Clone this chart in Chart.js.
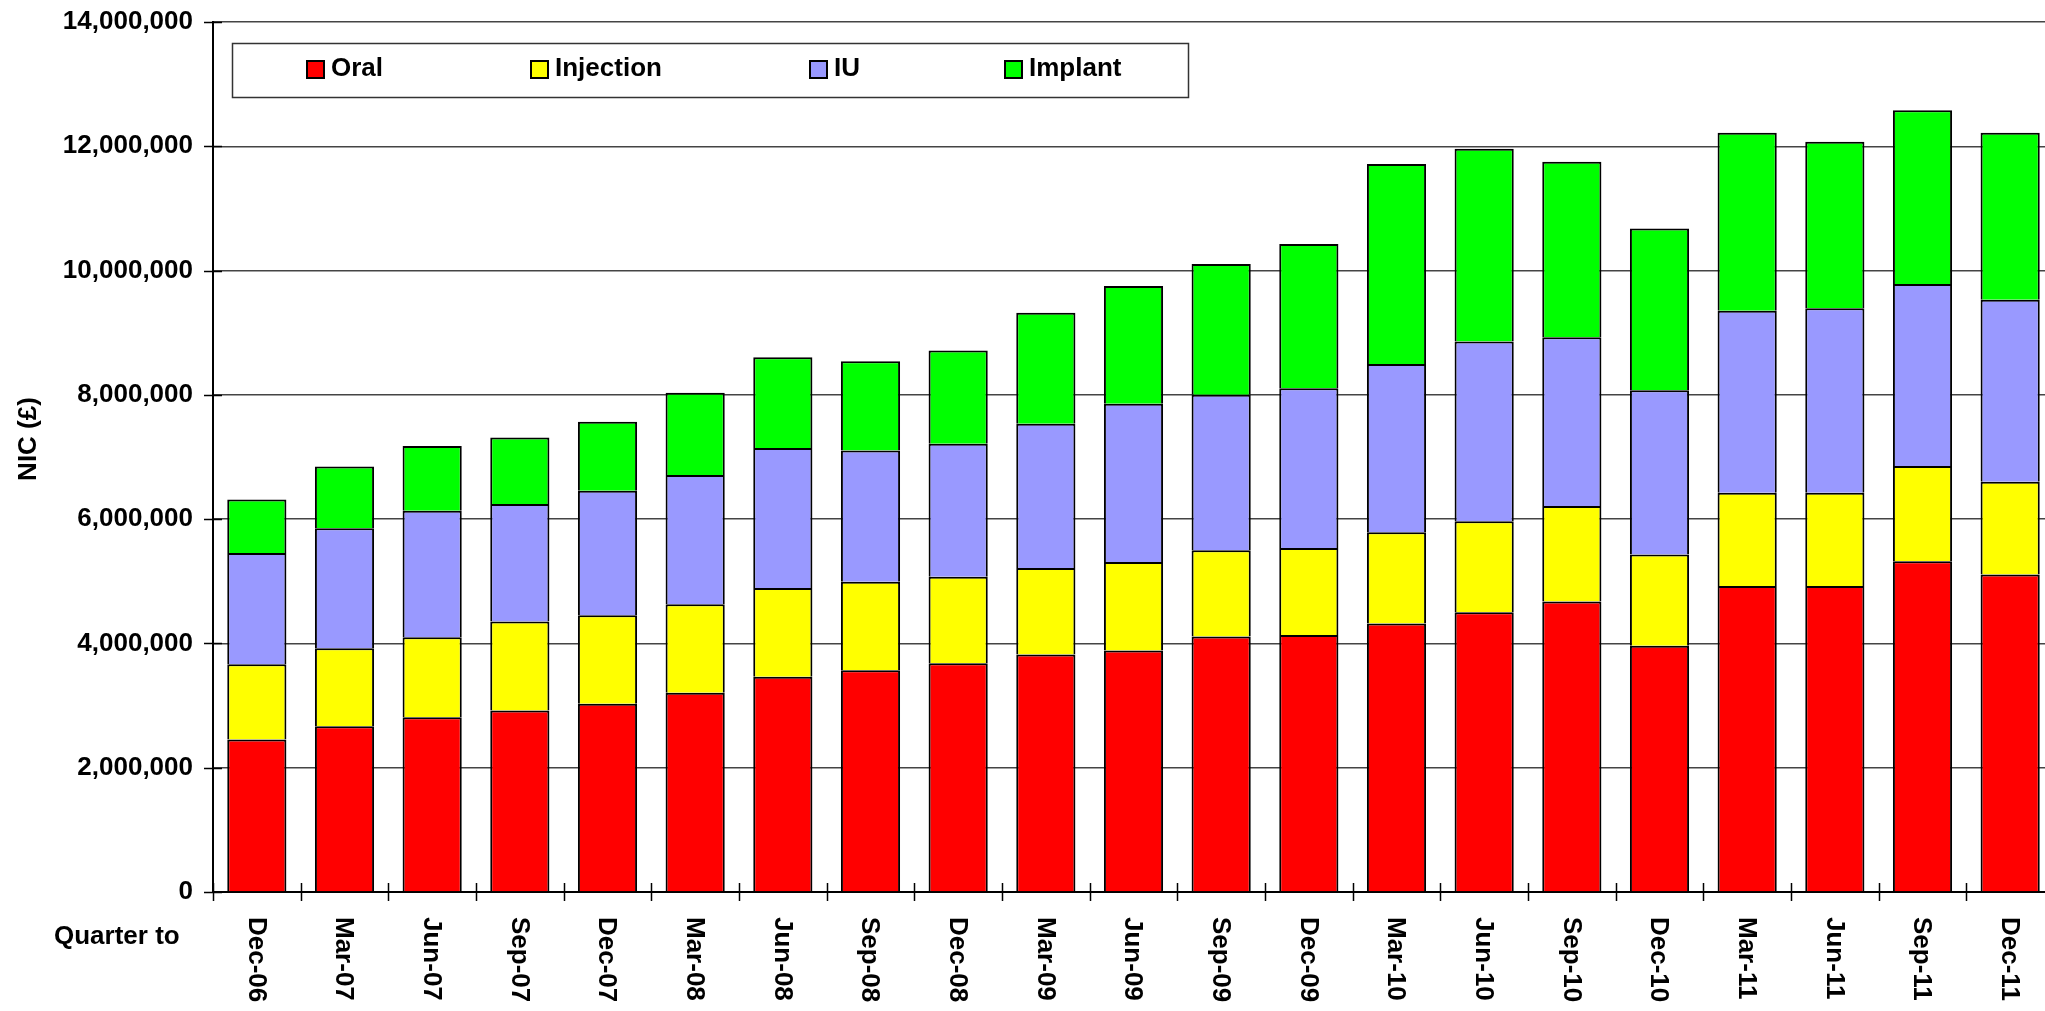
<!DOCTYPE html>
<html>
<head>
<meta charset="utf-8">
<title>Contraceptive NIC by quarter</title>
<script src="https://cdn.jsdelivr.net/npm/chart.js@4/dist/chart.umd.min.js"></script>
<style>
  html, body { margin: 0; padding: 0; background: #fff; overflow: hidden; }
  #wrap { width: 2054px; height: 1011px; position: relative; }
</style>
</head>
<body>
<div id="wrap"><canvas id="nicChart"></canvas></div>
<script>
// quarterly net ingredient cost (GBP) by method
const quarters = ["Dec-06", "Mar-07", "Jun-07", "Sep-07", "Dec-07", "Mar-08", "Jun-08", "Sep-08",
  "Dec-08", "Mar-09", "Jun-09", "Sep-09", "Dec-09", "Mar-10", "Jun-10", "Sep-10", "Dec-10",
  "Mar-11", "Jun-11", "Sep-11", "Dec-11"];

const oral      = [2455000, 2669000, 2813000, 2921000, 3028000, 3205000, 3462000, 3569000, 3680000, 3823000, 3888000,
                   4112000, 4134000, 4321000, 4503000, 4675000, 3963000, 4926000, 4926000, 5323000, 5108000];
const injection = [1211000, 1254000, 1287000, 1431000, 1425000, 1425000, 1428000, 1424000, 1391000, 1392000, 1424000,
                   1387000, 1403000, 1467000, 1462000, 1537000, 1467000, 1500000, 1500000, 1531000, 1494000];
const iu        = [1790000, 1929000, 2036000, 1891000, 2005000, 2080000, 2255000, 2111000, 2142000, 2319000, 2543000,
                   2501000, 2570000, 2710000, 2892000, 2714000, 2645000, 2929000, 2966000, 2929000, 2929000];
const implant   = [862000, 997000, 1040000, 1072000, 1109000, 1323000, 1460000, 1437000, 1499000, 1789000, 1896000,
                   2104000, 2319000, 3215000, 3105000, 2827000, 2604000, 2864000, 2682000, 2795000, 2688000];

const yTicks = [0, 2000000, 4000000, 6000000, 8000000, 10000000, 12000000, 14000000];

const FONT = "'Liberation Sans', Arial, sans-serif";

const series = (label, data, color) => ({
  label: label,
  data: data,
  backgroundColor: color,
  borderColor: "#000",
  borderWidth: 2,
  borderSkipped: "start",
  barPercentage: 0.675,
  categoryPercentage: 1.0
});

// Excel-style extras: cross tick marks, clockwise category labels, titles, boxed legend
const excelExtras = {
  id: "excelExtras",
  afterDraw(chart) {
    const ctx = chart.ctx;
    const xs = chart.scales.x, ys = chart.scales.y;
    const area = chart.chartArea;
    ctx.save();

    ctx.strokeStyle = "#000";
    ctx.lineWidth = 1.5;
    ctx.beginPath();
    yTicks.forEach(v => {
      const py = Math.round(ys.getPixelForValue(v)) + 0.5;
      ctx.moveTo(area.left - 9, py);
      ctx.lineTo(area.left + 9, py);
    });
    const step = (area.right - area.left) / quarters.length;
    for (let i = 0; i <= quarters.length; i++) {
      const px = Math.round(area.left + i * step) + 0.5;
      ctx.moveTo(px, area.bottom - 9);
      ctx.lineTo(px, area.bottom + 9);
    }
    ctx.stroke();

    ctx.fillStyle = "#000";
    ctx.font = "bold 26px " + FONT;
    quarters.forEach((q, i) => {
      ctx.save();
      ctx.translate(xs.getPixelForValue(i) - 1, area.bottom + 25);
      ctx.rotate(Math.PI / 2);
      ctx.textAlign = "left";
      ctx.textBaseline = "middle";
      ctx.fillText(q, 0, 0);
      ctx.restore();
    });

    ctx.textAlign = "left";
    ctx.textBaseline = "middle";
    ctx.fillText("Quarter to", 54, 937);

    ctx.save();
    ctx.translate(29, 439);
    ctx.rotate(-Math.PI / 2);
    ctx.textAlign = "center";
    ctx.fillText("NIC (£)", 0, 0);
    ctx.restore();

    // legend box
    ctx.fillStyle = "#fff";
    ctx.fillRect(232, 43, 957, 55);
    ctx.strokeStyle = "#333";
    ctx.lineWidth = 1.5;
    ctx.strokeRect(232.5, 43.5, 956, 54);
    const entryX = [307, 531, 810, 1005];
    chart.data.datasets.forEach((ds, i) => {
      const x0 = entryX[i];
      ctx.fillStyle = ds.backgroundColor;
      ctx.fillRect(x0, 61, 17, 17);
      ctx.strokeStyle = "#000";
      ctx.lineWidth = 2;
      ctx.strokeRect(x0, 61, 17, 17);
      ctx.fillStyle = "#000";
      ctx.fillText(ds.label, x0 + 24, 69);
    });

    ctx.restore();
  }
};

new Chart(document.getElementById("nicChart"), {
  type: "bar",
  data: {
    labels: quarters,
    datasets: [
      series("Oral", oral, "#ff0000"),
      series("Injection", injection, "#ffff00"),
      series("IU", iu, "#9999ff"),
      series("Implant", implant, "#00ff00")
    ]
  },
  options: {
    responsive: true,
    maintainAspectRatio: false,
    animation: false,
    layout: { padding: { top: 22, right: 0, bottom: 0, left: 0 } },
    plugins: {
      legend: { display: false },
      tooltip: { enabled: false }
    },
    scales: {
      x: {
        stacked: true,
        grid: { display: false },
        border: { display: true, color: "#000", width: 2 },
        ticks: { display: false },
        afterFit: s => { s.height = 119; }
      },
      y: {
        stacked: true,
        min: 0,
        max: 14000000,
        afterBuildTicks: s => { s.ticks = yTicks.map(v => ({ value: v })); },
        grid: { color: "#444", lineWidth: 1.5, drawTicks: false },
        border: { display: true, color: "#000", width: 2 },
        ticks: {
          padding: 20,
          color: "#000",
          font: { family: FONT, size: 26, weight: "bold" },
          callback: v => v.toLocaleString("en-US")
        },
        // fixed axis width, and no extra room for the end labels
        afterFit: s => { s.width = 213; s.paddingTop = 0; s.paddingBottom = 0; }
      }
    }
  },
  plugins: [excelExtras]
});
</script>
</body>
</html>
